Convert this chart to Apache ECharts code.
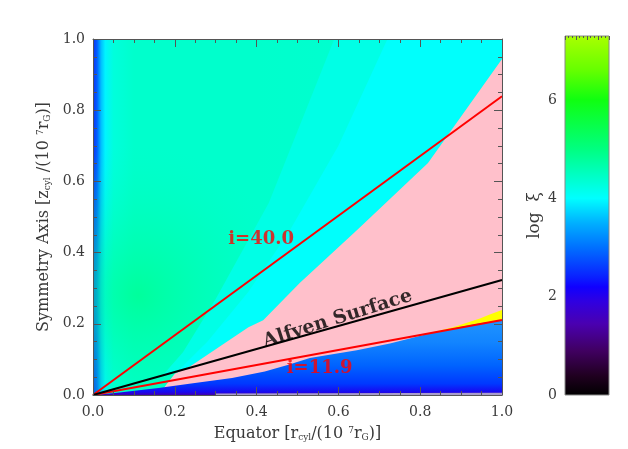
<!DOCTYPE html>
<html><head><meta charset="utf-8">
<script src="https://cdn.jsdelivr.net/npm/echarts@6/dist/echarts.min.js"></script>
<style>html,body{margin:0;padding:0;background:#fff}#c{width:628px;height:449px}</style>
</head><body><div id="c"></div>
<script>
// ---------------- data ----------------
const xRange = [0, 1];
const yRange = [0, 1];
const cbarRange = [0, 7.3];
const cbarTicks = [0, 2, 4, 6];
// colour table (log xi value -> colour)
const cmapValues = [0, 0.4, 0.9, 1.45, 1.9, 2.2, 2.4, 3.0, 3.5, 4.0, 4.5, 5.0, 6.0, 6.6, 7.3];
const cmapColors = ['#000000','#200020','#400060','#4a00b0','#3000e0','#1000ff','#0a20ff','#0070ff','#00b0ff','#00ffff','#00ffc0','#00ff80','#10ff10','#66ff00','#aaff00'];
// lines of constant inclination and the Alfven surface (end points)
const lineI40 = [[0, 0], [1, 0.839]];
const lineI119 = [[0, 0], [1, 0.2107]];
const lineAlfven = [[0, 0], [1, 0.323]];
// regions of the log xi map (outline vertices)
const regionBase = [[0, 0], [1, 0], [1, 1], [0, 1]];
const regionBandA = [[0.59, 1], [1, 1], [1, 0.944], [0.819, 0.652], [0.645, 0.463], [0.506, 0.315], [0.416, 0.21], [0.38, 0.19], [0.237, 0.08], [0.17, 0.055], [0.22, 0.12], [0.3, 0.27], [0.43, 0.54]];
const regionBandB = [[0.72, 1], [1, 1], [1, 0.944], [0.819, 0.652], [0.645, 0.463], [0.506, 0.315], [0.416, 0.21], [0.38, 0.19], [0.237, 0.08], [0.21, 0.07], [0.28, 0.15], [0.38, 0.29], [0.48, 0.46], [0.6, 0.7]];
const regionPink = [[1, 0.944], [0.819, 0.652], [0.645, 0.463], [0.506, 0.315], [0.416, 0.21], [0.38, 0.19], [0.237, 0.08], [0.2, 0.06], [0.18, 0.03], [0.16, 0], [1, 0]];
const regionYellow = [[0.80, 0.168], [0.88, 0.19], [0.946, 0.215], [0.97, 0.226], [1.0, 0.239], [1.0, 0.19]];
const regionBlue = [[0, 0], [0.03, 0.003], [0.07, 0.008], [0.16, 0.02], [0.24, 0.032], [0.34, 0.048], [0.42, 0.066], [0.48, 0.086], [0.53, 0.104], [0.645, 0.126], [0.726, 0.145], [0.83, 0.175], [0.9, 0.192], [0.95, 0.202], [1.0, 0.21], [1, 0]];
const regionBottom = [[0.3, 0], [1, 0], [1, 0.006], [0.3, 0.004]];
// annotation anchors
const labelI40 = [0.411, 0.437];
const labelI119 = [0.554, 0.074];
const labelAlfven = [0.598, 0.214];

// ---------------- styling ----------------
const FONT = 'DejaVu Serif';
const AX = '#555';
const TXT = '#3a3a3a';

function stops(arr) { return arr.map(([o, c]) => ({ offset: o, color: c })); }

function poly(pts, fillFn, z) {
  return {
    type: 'custom', coordinateSystem: 'cartesian2d', xAxisIndex: 0, yAxisIndex: 0,
    silent: true, z: z, clip: true, data: [[0, 0]],
    renderItem: (params, api) => ({
      type: 'polygon',
      shape: { points: pts.map(p => api.coord(p)) },
      style: { fill: fillFn(api) }
    })
  };
}

const baseFill = api => {
  const a = api.coord([0, 0]), b = api.coord([1, 0]);
  return { type: 'linear', x: a[0], y: a[1], x2: b[0], y2: b[1], global: true,
    colorStops: stops([[0, '#1030f0'], [0.01, '#0060ff'], [0.02, '#00c0ff'], [0.03, '#00f4ff'], [0.05, '#00ffdc'], [0.1, '#00ffcc'], [0.4, '#00ffcc'], [1, '#00ffd4']]) };
};
const blobFill = api => {
  const c = api.coord([0.11, 0.28]);
  return { type: 'radial', x: c[0], y: c[1], r: 150, global: true,
    colorStops: stops([[0, 'rgba(0,255,140,0.75)'], [0.5, 'rgba(0,255,160,0.35)'], [1, 'rgba(0,255,190,0)']]) };
};
const blueFill = api => {
  const a = api.coord([0, 0.21]), b = api.coord([0, 0]);
  return { type: 'linear', x: a[0], y: a[1], x2: b[0], y2: b[1], global: true,
    colorStops: stops([[0, '#2094ff'], [0.3, '#1284ff'], [0.6, '#0064ff'], [0.85, '#0038ff'], [0.96, '#1808f0'], [1, '#4000b0']]) };
};

const series = [
  poly(regionBase, baseFill, 1),
  poly(regionBase, blobFill, 1),
  poly(regionBandA, () => '#00ffe6', 1),
  poly(regionBandB, () => '#00fffc', 1),
  poly(regionPink, () => '#ffc0cb', 1),
  poly(regionYellow, () => '#ffff00', 1),
  poly(regionBlue, blueFill, 1),
  poly(regionBottom, () => '#a89ccc', 1),
  { type: 'line', xAxisIndex: 0, yAxisIndex: 0, data: lineI40, showSymbol: false, silent: true, z: 3,
    lineStyle: { color: '#ff0000', width: 2 } },
  { type: 'line', xAxisIndex: 0, yAxisIndex: 0, data: lineI119, showSymbol: false, silent: true, z: 3,
    lineStyle: { color: '#ff0000', width: 2 } },
  { type: 'line', xAxisIndex: 0, yAxisIndex: 0, data: lineAlfven, showSymbol: false, silent: true, z: 3,
    lineStyle: { color: '#000000', width: 2 } },
  { type: 'scatter', xAxisIndex: 0, yAxisIndex: 0, symbolSize: 0, silent: true, z: 4,
    data: [labelI40, labelI119],
    label: { show: true, position: 'inside', fontFamily: FONT, fontSize: 18, fontWeight: 'bold', color: '#ff0000',
      formatter: p => p.dataIndex === 0 ? 'i=40.0' : 'i=11.9' } },
  { type: 'scatter', xAxisIndex: 0, yAxisIndex: 0, symbolSize: 0, silent: true, z: 4,
    data: [labelAlfven],
    label: { show: true, position: 'inside', rotate: 17.5, fontFamily: FONT, fontSize: 19, fontWeight: 'bold', color: '#000',
      formatter: 'Alfven Surface' } },
  // colour bar
  { type: 'custom', coordinateSystem: 'cartesian2d', xAxisIndex: 2, yAxisIndex: 2, silent: true, z: 1,
    data: [[0, 0]],
    renderItem: (params, api) => {
      const tl = api.coord([0, cbarRange[1]]), br = api.coord([1, cbarRange[0]]);
      const span = cbarRange[1] - cbarRange[0];
      const cs = cmapValues.map((v, i) => ({ offset: 1 - (v - cbarRange[0]) / span, color: cmapColors[i] })).reverse();
      return { type: 'rect', shape: { x: tl[0], y: tl[1], width: br[0] - tl[0], height: br[1] - tl[1] },
        style: { fill: { type: 'linear', x: 0, y: 0, x2: 0, y2: 1, colorStops: cs }, stroke: '#888', lineWidth: 1 } };
    } }
];

const tickCommon = {
  axisLine: { show: true, onZero: false, lineStyle: { color: AX, width: 1 } },
  axisTick: { show: true, inside: true, length: 8, lineStyle: { color: AX } },
  minorTick: { show: true, splitNumber: 4, length: 4, lineStyle: { color: AX } },
  splitLine: { show: false }, minorSplitLine: { show: false }
};
const lblStyle = { fontFamily: FONT, fontSize: 14, color: TXT };
const nameRich = {
  n: { fontFamily: FONT, fontSize: 16, color: TXT },
  s: { fontFamily: FONT, fontSize: 9, color: TXT, verticalAlign: 'bottom' },
  p: { fontFamily: FONT, fontSize: 9, color: TXT, verticalAlign: 'top' }
};

const option = {
  animation: false,
  backgroundColor: '#ffffff',
  grid: [
    { left: 93, top: 39, width: 409, height: 356 },
    { left: 565, top: 36, width: 44, height: 359 }
  ],
  xAxis: [
    Object.assign({ type: 'value', gridIndex: 0, position: 'bottom', min: xRange[0], max: xRange[1], interval: 0.2, z: 10,
      axisLabel: Object.assign({ margin: 10, formatter: v => v.toFixed(1) }, lblStyle),
      name: '{n|Equator [r}{s|cyl}{n|/(10 }{p|7}{n|r}{s|G}{n|)]}', nameLocation: 'middle', nameGap: 31,
      nameTextStyle: { rich: nameRich } }, tickCommon),
    Object.assign({ type: 'value', gridIndex: 0, position: 'top', min: xRange[0], max: xRange[1], interval: 0.2, z: 10,
      axisLabel: { show: false } }, tickCommon),
    { type: 'value', gridIndex: 1, position: 'top', min: 0, max: 1, interval: 0.25, z: 10,
      axisLine: { show: false, onZero: false }, axisLabel: { show: false },
      axisTick: { show: true, inside: true, length: 4, lineStyle: { color: '#555' } },
      minorTick: { show: true, splitNumber: 3, length: 2, lineStyle: { color: '#555' } },
      splitLine: { show: false } }
  ],
  yAxis: [
    Object.assign({ type: 'value', gridIndex: 0, position: 'left', min: yRange[0], max: yRange[1], interval: 0.2, z: 10,
      axisLabel: Object.assign({ margin: 8, formatter: v => v.toFixed(1) }, lblStyle),
      name: '{n|Symmetry Axis [z}{s|cyl}{n| /(10 }{p|7}{n|r}{s|G}{n|)]}', nameLocation: 'middle', nameGap: 33, nameRotate: 90,
      nameTextStyle: { rich: nameRich } }, tickCommon),
    Object.assign({ type: 'value', gridIndex: 0, position: 'right', min: yRange[0], max: yRange[1], interval: 0.2, z: 10,
      axisLabel: { show: false } }, tickCommon),
    { type: 'value', gridIndex: 1, position: 'left', min: cbarRange[0], max: cbarRange[1], interval: 2, z: 10,
      axisLine: { show: false, onZero: false }, axisTick: { show: false }, splitLine: { show: false },
      axisLabel: Object.assign({ margin: 8, showMaxLabel: false, formatter: v => (cbarTicks.indexOf(v) >= 0 ? String(v) : '') }, lblStyle),
      name: 'log  ξ', nameLocation: 'middle', nameGap: 22, nameRotate: 90,
      nameTextStyle: { fontFamily: FONT, fontSize: 17, color: TXT } }
  ],
  series: series
};

const chart = echarts.init(document.getElementById('c'), null, { renderer: 'canvas' });
chart.setOption(option);
</script>
</body></html>
